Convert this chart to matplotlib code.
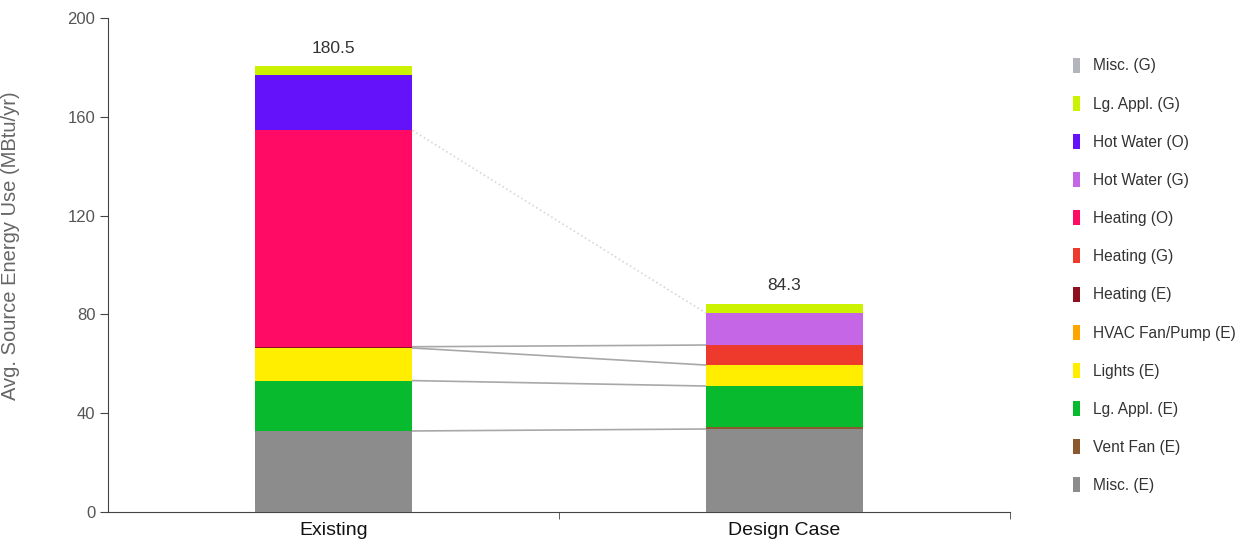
import matplotlib.pyplot as plt
import numpy as np
from matplotlib.patches import Patch

plt.rcParams['font.family'] = ['Liberation Sans', 'DejaVu Sans']

# data (MBtu/yr), series listed bottom -> top of the stack
cases = ['Existing', 'Design Case']
series = ['Misc. (E)', 'Vent Fan (E)', 'Lg. Appl. (E)', 'Lights (E)',
          'HVAC Fan/Pump (E)', 'Heating (E)', 'Heating (G)', 'Heating (O)',
          'Hot Water (G)', 'Hot Water (O)', 'Lg. Appl. (G)', 'Misc. (G)']
existing = [32.8, 0.0, 20.4, 13.2, 0.0, 0.5, 0.0, 87.6, 0.0, 22.4, 3.6, 0.0]
design = [33.6, 0.8, 16.6, 8.5, 0.0, 0.0, 8.1, 0.0, 13.0, 0.0, 3.7, 0.0]
colors = ['#8c8c8c', '#8a5a2e', '#08bb2e', '#ffee00', '#ffa500', '#8e1020',
          '#ee3a2c', '#ff0a64', '#c466e6', '#6412fa', '#ccf200', '#b4b4bc']
totals = ['180.5', '84.3']
# series whose tops are joined between the two bars
links = ['Misc. (E)', 'Lg. Appl. (E)', 'Lights (E)', 'Heating (G)', 'Hot Water (G)']
link_alpha = [1.0, 1.0, 1.0, 1.0, 0.45]
link_style = ['-', '-', '-', '-', ':']

fig = plt.figure(figsize=(12.47, 5.46), dpi=100)
ax = fig.add_axes([0.0866, 0.0623, 0.7234, 0.9047])

vals = np.array([existing, design])
x = np.arange(len(cases))
width = 0.35
bottom = np.zeros(len(cases))
for i, name in enumerate(series):
    ax.bar(x, vals[:, i], width, bottom=bottom, color=colors[i], linewidth=0, zorder=3)
    bottom += vals[:, i]

cum = np.cumsum(vals, axis=1)
for name, a, ls in zip(links, link_alpha, link_style):
    j = series.index(name)
    ax.plot([x[0] + width / 2, x[1] - width / 2], [cum[0, j], cum[1, j]],
            color='#a8a8a8', lw=1.2, alpha=a, ls=ls, zorder=2)

for xi, tot, t in zip(x, bottom, totals):
    ax.text(xi, tot + 7.2, t, ha='center', va='center', fontsize=12.5, color='#333333')

ax.set_xlim(-0.5, 1.5)
ax.set_ylim(0, 200)
ax.set_yticks(np.arange(0, 201, 40))
ax.set_xticks(x)
ax.set_xticklabels(cases, fontsize=14, color='#111111')
ax.set_xticks([0.5, 1.5], minor=True)
ax.tick_params(axis='x', which='major', length=0, pad=7)
ax.tick_params(axis='x', which='minor', length=5, color='#444444')
ax.tick_params(axis='y', length=6, color='#444444', labelsize=12, labelcolor='#555555', pad=3)
ax.set_ylabel('Avg. Source Energy Use (MBtu/yr)', fontsize=14.5, color='#666666')
ax.yaxis.set_label_coords(-0.097, 0.54)
for s in ['top', 'right']:
    ax.spines[s].set_visible(False)
for s in ['left', 'bottom']:
    ax.spines[s].set_color('#444444')

handles = [Patch(facecolor=c, edgecolor='none', label=n) for n, c in zip(series, colors)][::-1]
leg = fig.legend(handles=handles, loc='upper left', bbox_to_anchor=(0.849, 0.92),
                 frameon=False, fontsize=11.2, handlelength=0.45, handleheight=1.1,
                 handletextpad=0.85, labelspacing=1.44, labelcolor='#333333')

fig.savefig('out.png', dpi=100, facecolor='white')
